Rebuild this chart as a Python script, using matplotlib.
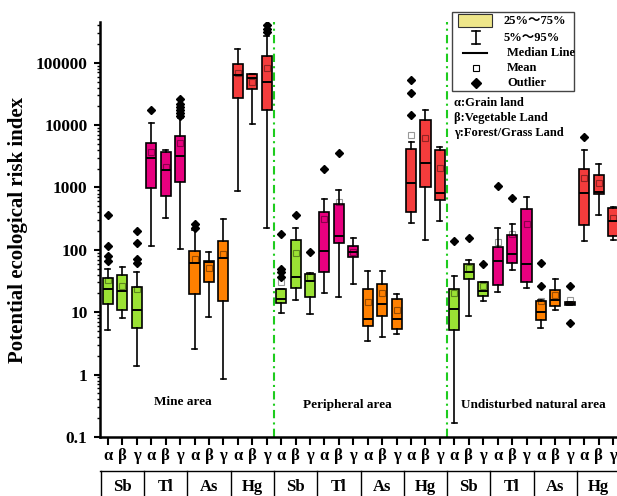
import numpy as np
import matplotlib
matplotlib.use('Agg')
import matplotlib.pyplot as plt
import matplotlib.transforms as mtransforms
from matplotlib.patches import Rectangle
from matplotlib.lines import Line2D
from matplotlib.ticker import LogLocator, NullFormatter

plt.rcParams['font.family'] = ['Liberation Serif', 'Noto Sans CJK SC', 'DejaVu Sans']
plt.rcParams['font.weight'] = 'bold'

# groups: 3 areas x 4 elements x 3 land uses
areas = ['Mine area', 'Peripheral area', 'Undisturbed natural area']
elements = ['Sb', 'Tl', 'As', 'Hg']
land_uses = ['α', 'β', 'γ']

# box statistics (5%, 25%, median, 75%, 95%, mean)
whis_lo = [5.1, 8, 1.36, 117, 329, 104, 2.58, 8.4, 0.84, 889, 10300, 227,
           9.8, 15.8, 9.4, 20.7, 17.5, 28, 3.4, 3.95, 4.5, 273, 145, 294,
           0.17, 8.6, 14.9, 21.5, 48, 24.4, 5.6, 11, 13, 139, 367, 145]
q1 = [13.5, 11, 5.6, 990, 740, 1210, 19.8, 31, 15.3, 27300, 38600, 17400,
      14.3, 24.4, 17.3, 45, 128, 78, 6.1, 8.8, 5.4, 401, 1010, 631,
      5.25, 34.4, 18.4, 27.5, 61, 31, 7.6, 12.4, 13, 251, 787, 168]
med = [23.5, 22.3, 10.7, 2930, 1930, 3230, 61, 63.5, 73.6, 64700, 57100, 49300,
       16.6, 37.4, 31.9, 97.5, 169, 94, 7.9, 13.7, 7.8, 1170, 2490, 807,
       11.3, 43.4, 22.3, 66.7, 86, 59.7, 10.1, 15.8, 13.7, 807, 838, 294]
q3 = [36, 40, 25.3, 5100, 3700, 6590, 97.5, 66.7, 139, 97000, 65400, 128000,
      23.2, 145, 41.3, 401, 538, 116, 23.5, 28.6, 16.4, 4090, 12300, 3980,
      23.5, 59.7, 30.4, 110, 174, 453, 14.9, 22.9, 14.4, 1950, 1585, 475]
whis_hi = [50, 53, 44, 10900, 4030, 13000, 209, 94, 310, 168000, 65400, 265000,
           24, 222, 42, 655, 912, 154, 46, 46, 19.5, 5410, 17800, 4490,
           38.4, 68.4, 31, 222, 258, 697, 15.5, 34, 14.4, 3980, 2380, 480]
means = [33, 26, 23.5, 3650, 2150, 5100, 72, 52, 87, 68700, 48700, 82600,
         30.4, 90.5, 37.4, 310, 593, 92, 14.6, 20.7, 10.8, 6920, 6200, 2070,
         20.3, 51, 26.8, 133, 178, 258, 15.4, 18.6, 15.8, 1430, 1190, 329]
outliers = [[367, 116, 80, 67], [], [204, 128, 72, 62], [17800], [],
            [26000, 21700, 19400, 17400, 15500, 13900], [261, 222], [], [], [], [],
            [398000, 350000, 311000],
            [182, 49.7, 44, 37.4], [367], [94], [2000], [3520], [], [], [], [],
            [52500, 32200, 14500], [], [],
            [139], [154], [59], [1057], [687], [], [61, 25.9], [], [26.8, 6.7],
            [6350], [], []]

element_colors = {'Sb': '#9BE234', 'Tl': '#E8007F', 'As': '#FF8000', 'Hg': '#F43C3C'}

W, H = 617, 496
fig = plt.figure(figsize=(W / 100, H / 100), dpi=100)
ax = fig.add_axes([100 / W, 59 / H, 517 / W, 415 / H])
ax.set_yscale('log')

positions = np.arange(1, 37)
stats = []
for i in range(len(positions)):
    stats.append(dict(whislo=whis_lo[i], q1=q1[i], med=med[i], q3=q3[i],
                      whishi=whis_hi[i], mean=means[i], fliers=outliers[i]))

bp = ax.bxp(stats, positions=positions, widths=0.7, capwidths=0.35,
            patch_artist=True, showmeans=True,
            boxprops=dict(edgecolor='black', linewidth=1.2),
            whiskerprops=dict(color='black', linewidth=1.2),
            capprops=dict(color='black', linewidth=1.2),
            medianprops=dict(color='black', linewidth=1.4),
            meanprops=dict(marker='s', markersize=4.8, markerfacecolor='none',
                           markeredgecolor=(0, 0, 0, 0.4), markeredgewidth=0.8),
            flierprops=dict(marker='D', markersize=4.5, markerfacecolor='black',
                            markeredgecolor='black'))

box_colors = [element_colors[e] for a in areas for e in elements for l in land_uses]
for patch, c in zip(bp['boxes'], box_colors):
    patch.set_facecolor(c)

ax.set_ylim(0.1, 4.5e5)
ax.set_xlim(0.45, 36.27)

# area separators
for xs in [12.5, 24.5]:
    ax.axvline(xs, color='#1ECC1E', linewidth=1.5, dashes=(4, 2, 1, 2))

# area names
for k, name in enumerate(areas):
    ax.text([6.2, 17.6, 30.45][k], 0.36 if k == 0 else 0.33, name,
            ha='center', va='center', fontsize=9.5, fontweight='bold')

# axes styling
for s in ['top', 'right']:
    ax.spines[s].set_visible(False)
for s in ['left', 'bottom']:
    ax.spines[s].set_linewidth(1.8)

yt = [0.1, 1, 10, 100, 1000, 10000, 100000]
ax.set_yticks(yt, labels=['0.1', '1', '10', '100', '1000', '10000', '100000'])
ax.yaxis.set_minor_locator(LogLocator(base=10, subs=np.arange(2, 10), numticks=20))
ax.yaxis.set_minor_formatter(NullFormatter())
ax.tick_params(axis='y', which='major', direction='out', length=4, width=1.5,
               labelsize=12.5, pad=5)
ax.tick_params(axis='y', which='minor', direction='out', length=2.5, width=1)

ax.set_xticks(positions, labels=land_uses * 12)
ax.tick_params(axis='x', which='major', direction='out', length=6, width=1.5,
               labelsize=12, pad=2)

fig.text(18 / W, 1 - 229.5 / H, 'Potential ecological risk index', rotation=90,
         ha='center', va='center', fontsize=15, fontweight='bold')

# element table under the axis
trans = mtransforms.blended_transform_factory(ax.transData, ax.transAxes)
y_line = (437 - 471) / 415
y_bot = (437 - 500) / 415
ax.plot([0.45, 36.5], [y_line, y_line], transform=trans, color='black',
        linewidth=1, clip_on=False)
for g in range(13):
    xg = 0.5 + 3 * g
    ax.plot([xg, xg], [y_line, y_bot], transform=trans, color='black',
            linewidth=1, clip_on=False)
for g in range(12):
    ax.text(2 + 3 * g, (437 - 487) / 415, elements[g % 4], transform=trans,
            ha='center', va='center', fontsize=12, fontweight='bold', clip_on=False)


# legend drawn by hand, positions in pixels of the figure
def fx(x):
    return x / W


def fy(y):
    return 1 - y / H


fig.add_artist(Rectangle((fx(452), fy(91)), 122 / W, 79 / H, transform=fig.transFigure,
                         facecolor='white', edgecolor='#444444', linewidth=1))
fig.add_artist(Rectangle((fx(458), fy(27)), 34 / W, 13 / H, transform=fig.transFigure,
                         facecolor='#EEE68A', edgecolor='#333333', linewidth=0.8))
fig.add_artist(Line2D([fx(476), fx(476)], [fy(31), fy(44)], transform=fig.transFigure,
                      color='black', linewidth=1.2))
for yy in [31, 44]:
    fig.add_artist(Line2D([fx(472), fx(480)], [fy(yy), fy(yy)], transform=fig.transFigure,
                          color='black', linewidth=1.2))
fig.add_artist(Line2D([fx(463), fx(487)], [fy(53), fy(53)], transform=fig.transFigure,
                      color='black', linewidth=1.5))
fig.add_artist(Line2D([fx(476)], [fy(68)], transform=fig.transFigure, marker='s',
                      markersize=5, markerfacecolor='none', markeredgecolor='black',
                      markeredgewidth=0.8, linestyle='none'))
fig.add_artist(Line2D([fx(476)], [fy(83)], transform=fig.transFigure, marker='D',
                      markersize=5, markerfacecolor='black', markeredgecolor='black',
                      linestyle='none'))
legend_labels = ['25%～75%', '5%～95%', 'Median Line', 'Mean', 'Outlier']
legend_x = [503, 504, 507, 507, 507]
legend_y = [21, 38, 53, 68, 83]
for lab, lx, ly in zip(legend_labels, legend_x, legend_y):
    fig.text(fx(lx), fy(ly), lab, ha='left', va='center', fontsize=9, fontweight='bold')

notes = ['α:Grain land', 'β:Vegetable Land', 'γ:Forest/Grass Land']
for n, ly in zip(notes, [103, 118, 133]):
    fig.text(fx(454), fy(ly), n, ha='left', va='center', fontsize=9, fontweight='bold')

fig.savefig('out.png', dpi=100)
